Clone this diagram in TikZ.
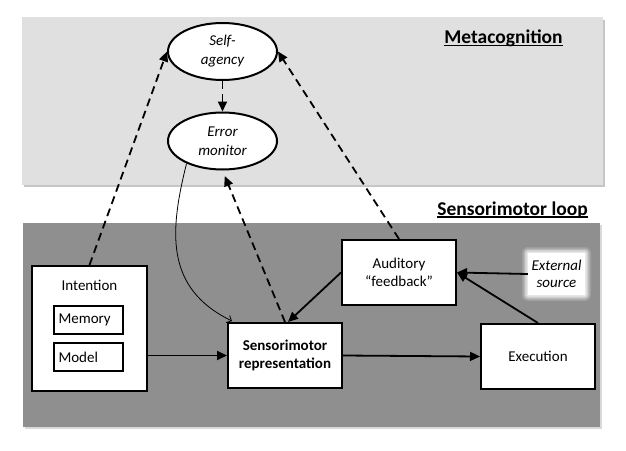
\documentclass[tikz,border=0pt]{standalone}
\usepackage{fontspec}
\setmainfont{Carlito}
\usetikzlibrary{arrows.meta,shapes.geometric,calc}
\definecolor{metabg}{RGB}{224,224,224}
\definecolor{loopbg}{RGB}{143,143,143}
\begin{document}
\begin{tikzpicture}[x=1pt,y=-1pt,
  txt/.style={font=\fontsize{15}{18}\selectfont},
  box/.style={draw, line width=2pt, fill=white, inner sep=0pt, align=center, txt},
  oval/.style={ellipse, draw, line width=2pt, fill=white, minimum width=109pt, minimum height=57pt, inner sep=0pt, align=center, font=\fontsize{15}{19}\selectfont\itshape},
  subbox/.style={draw, line width=1.2pt, fill=white, minimum width=69pt, minimum height=28pt, inner sep=0pt, text width=60pt, align=left, txt},
  heading/.style={font=\fontsize{19.5}{22}\selectfont\bfseries, anchor=base, inner sep=0pt},
  solidarrow/.style={-{Triangle[length=10pt,width=9pt]}, line width=1.8pt},
  dasharrow/.style={-{Triangle[length=10pt,width=9pt]}, line width=1.8pt, dash pattern=on 8pt off 5pt},
  thinarrow/.style={-{Straight Barb[length=4pt,width=8pt]}, line width=0.8pt}
]
\useasboundingbox (0,0) rectangle (626,450);
% panels
\fill[gray!45] (24,19.5) rectangle (604.5,187);
\fill[metabg] (22,17) rectangle (603,185);
\fill[gray!30] (24.5,225) rectangle (601.5,429);
\fill[loopbg] (23,223) rectangle (600,427);
% headings
\node[heading] (meta) at (503.5,43.5) {Metacognition};
\draw[line width=1.3pt] ([yshift=-2pt]meta.base west) -- ([yshift=-2pt]meta.base east);
\node[heading] (loop) at (512.5,215) {Sensorimotor loop};
\draw[line width=1.3pt] ([yshift=-2pt]loop.base west) -- ([yshift=-2pt]loop.base east);
% nodes
\node[oval] (self) at (222.5,51.5) {Self-\\agency};
\node[oval] (err) at (222.5,141) {Error\\monitor};
\node[box, minimum width=115pt, minimum height=125pt] (int) at (89.5,328.5) {};
\node[txt] (intl) at (89.5,285) {Intention};
\node[subbox] (mem) at (88.5,320) {Memory};
\node[subbox] (mod) at (88.5,357) {Model};
\node[box, minimum width=114pt, minimum height=65pt, font=\fontsize{15}{18}\selectfont\bfseries] (sm) at (285,355.5) {Sensorimotor\\representation};
\node[box, minimum width=114pt, minimum height=65pt] (exe) at (538,356.5) {Execution};
\node[box, minimum width=114pt, minimum height=65pt] (aud) at (399,272.5) {Auditory\\“feedback”};
\coordinate (extc) at (556.5,274);
\foreach \d/\o in {6/0.15,4.5/0.25,3/0.35,1.5/0.5}
  \fill[white, opacity=\o, rounded corners=\d pt] ($(extc)+(-28.5-\d,-21-\d)$) rectangle ($(extc)+(28.5+\d,21+\d)$);
\node[fill=white, minimum width=57pt, minimum height=42pt, inner sep=0pt, align=center, font=\fontsize{15}{17}\selectfont\itshape] (ext) at (extc) {External\\source};
% connectors
\draw[dasharrow] (int.north) -- (self.west);
\draw[dasharrow] (aud.north) -- (self.east);
\draw[dasharrow] (self.south) -- (err.north);
\draw[dasharrow, shorten >=6pt] (sm.north) -- (err.south);
\draw[solidarrow] (int.east |- sm.west) -- (sm.west);
\draw[solidarrow] (sm.east) -- (exe.west);
\draw[solidarrow] (exe.north) -- (aud.east);
\draw[solidarrow] (ext.west) -- (aud.east);
\draw[solidarrow] (aud.west) -- ([xshift=3pt]sm.north);
\draw[thinarrow] (err.-148) .. controls (170,230) and (164,288) .. ([xshift=5pt,yshift=1pt]sm.north west);
\end{tikzpicture}
\end{document}
